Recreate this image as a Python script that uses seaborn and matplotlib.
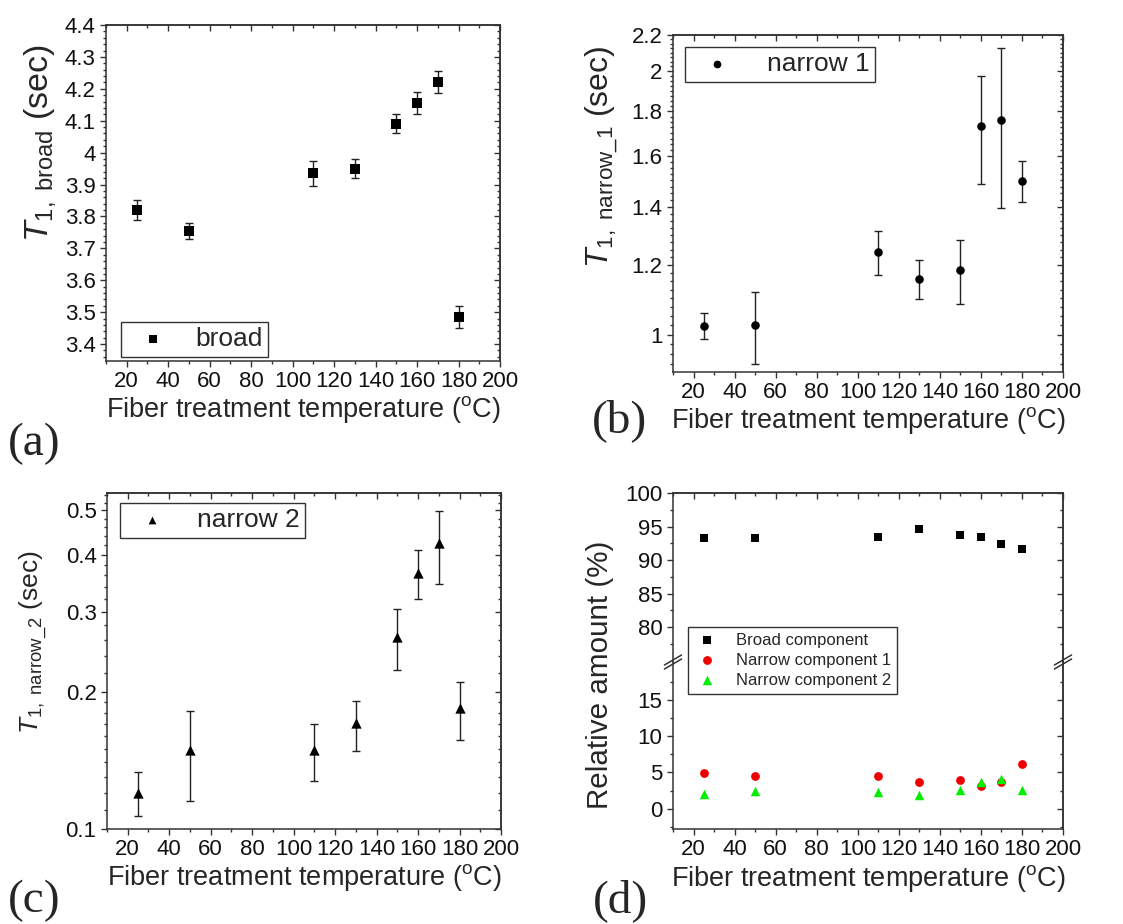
import numpy as np
import pandas as pd
import matplotlib
matplotlib.use("Agg")
import matplotlib.pyplot as plt
import seaborn as sns
from matplotlib.ticker import FixedLocator, MultipleLocator, NullFormatter, FixedFormatter

# ---------------- data ----------------
temps = [25, 50, 110, 130, 150, 160, 170, 180]

broad_t1 = [3.82, 3.755, 3.935, 3.95, 4.09, 4.155, 4.222, 3.485]
broad_err = [0.03, 0.025, 0.04, 0.03, 0.03, 0.035, 0.035, 0.035]

narrow1_t1 = [1.022, 1.025, 1.241, 1.158, 1.184, 1.731, 1.757, 1.497]
narrow1_lo = [0.987, 0.926, 1.169, 1.098, 1.084, 1.486, 1.394, 1.419]
narrow1_hi = [1.059, 1.119, 1.313, 1.218, 1.284, 1.974, 2.125, 1.578]

narrow2_t1 = [0.120, 0.149, 0.149, 0.1705, 0.264, 0.364, 0.425, 0.184]
narrow2_lo = [0.107, 0.1154, 0.1276, 0.148, 0.223, 0.319, 0.345, 0.157]
narrow2_hi = [0.1331, 0.1817, 0.170, 0.191, 0.304, 0.410, 0.499, 0.210]

broad_pct = [93.25, 93.25, 93.4, 94.6, 93.7, 93.4, 92.35, 91.6]
narrow1_pct = [4.9, 4.55, 4.55, 3.7, 4.0, 3.15, 3.65, 6.1]
narrow2_pct = [2.0, 2.45, 2.25, 1.9, 2.6, 3.7, 4.1, 2.6]

x_ticks = [20, 40, 60, 80, 100, 120, 140, 160, 180, 200]
a_ticks = [3.4, 3.5, 3.6, 3.7, 3.8, 3.9, 4.0, 4.1, 4.2, 4.3, 4.4]
a_ticklabels = ["3.4", "3.5", "3.6", "3.7", "3.8", "3.9", "4", "4.1", "4.2", "4.3", "4.4"]
b_ticks = [1.0, 1.2, 1.4, 1.6, 1.8, 2.0, 2.2]
b_ticklabels = ["1", "1.2", "1.4", "1.6", "1.8", "2", "2.2"]
c_ticks = [0.1, 0.2, 0.3, 0.4, 0.5]
c_ticklabels = ["0.1", "0.2", "0.3", "0.4", "0.5"]
d_up_ticks = [80, 85, 90, 95, 100]
d_lo_ticks = [0, 5, 10, 15]

# ---------------- style ----------------
sns.set_theme(style="ticks")
plt.rcParams["font.family"] = ["Liberation Sans", "DejaVu Sans"]
plt.rcParams["mathtext.fontset"] = "custom"
plt.rcParams["mathtext.rm"] = "Liberation Sans"
plt.rcParams["mathtext.it"] = "Liberation Sans:italic"
plt.rcParams["mathtext.bf"] = "Liberation Sans:bold"

W, H = 1123, 924
fig = plt.figure(figsize=(W / 100, H / 100), dpi=100)
fig.patch.set_facecolor("white")

SPINE = "#333333"
TICK_FS = 16
LABEL_FS = 19.5


def rect(l, t, r, b):
    return [l / W, 1 - b / H, (r - l) / W, (b - t) / H]


def fpt(x, y):
    return (x / W, 1 - y / H)


def style(ax, yminor=None, ymajor=None, show_top=True, show_bottom=True):
    for s in ax.spines.values():
        s.set_linewidth(1.1)
        s.set_color(SPINE)
    ax.tick_params(which="both", direction="out", top=False, right=False,
                   color=SPINE, width=1.0, labelsize=TICK_FS, pad=3, labelcolor="#111111")
    ax.tick_params(which="major", length=4.5)
    ax.tick_params(which="minor", length=2.5)
    ax.set_xlim(10, 200)
    ax.xaxis.set_major_locator(FixedLocator(x_ticks))
    ax.xaxis.set_minor_locator(MultipleLocator(10))
    if not show_bottom:
        ax.spines["bottom"].set_visible(False)
        ax.tick_params(axis="x", which="both", bottom=False, labelbottom=False)
    if not show_top:
        ax.spines["top"].set_visible(False)
    else:
        sx = ax.secondary_xaxis("top")
        sx.xaxis.set_major_locator(FixedLocator(x_ticks))
        sx.xaxis.set_minor_locator(MultipleLocator(10))
        sx.tick_params(which="both", direction="in", labeltop=False, color=SPINE, width=1.0)
        sx.tick_params(which="major", length=4.5)
        sx.tick_params(which="minor", length=2.5)
        for s in sx.spines.values():
            s.set_linewidth(1.1)
            s.set_color(SPINE)
    sy = ax.secondary_yaxis("right")
    sy.yaxis.set_major_locator(FixedLocator(ymajor))
    sy.yaxis.set_minor_locator(FixedLocator(yminor))
    sy.yaxis.set_major_formatter(NullFormatter())
    sy.yaxis.set_minor_formatter(NullFormatter())
    sy.tick_params(which="both", direction="in", labelright=False, color=SPINE, width=1.0)
    sy.tick_params(which="major", length=4.5)
    sy.tick_params(which="minor", length=2.5)
    for s in sy.spines.values():
        s.set_linewidth(1.1)
        s.set_color(SPINE)
    return sy


xlabel = r"Fiber treatment temperature ($^{\mathrm{o}}$C)"


def legend_style(**kw):
    base = dict(frameon=True, fancybox=False, framealpha=1, edgecolor=SPINE,
                borderaxespad=0, loc="upper left")
    base.update(kw)
    return base


# ---------------- (a) ----------------
ax_a = fig.add_axes(rect(106, 25, 500, 361))
ax_a.errorbar(temps, broad_t1, yerr=broad_err, fmt="none", ecolor="#222222",
              elinewidth=1.0, capsize=3, capthick=1.0, zorder=2)
sns.scatterplot(x=temps, y=broad_t1, ax=ax_a, marker="s", s=52, color="black",
                edgecolor="black", linewidth=0, zorder=3, label="broad")
ax_a.set_ylim(3.347, 4.4)
ax_a.yaxis.set_major_locator(FixedLocator(a_ticks))
ax_a.yaxis.set_major_formatter(FixedFormatter(a_ticklabels))
a_minor = [v for v in np.arange(3.36, 4.401, 0.02)]
ax_a.yaxis.set_minor_locator(FixedLocator(a_minor))
style(ax_a, ymajor=a_ticks, yminor=a_minor)
ax_a.set_xlabel(xlabel, fontsize=LABEL_FS, labelpad=1)
ax_a.set_ylabel(r"$T_{\mathrm{1,\ broad}}$ (sec)", fontsize=24.5, va="center")
ax_a.yaxis.set_label_coords(-0.1675, 0.649)
ax_a.legend(**legend_style(bbox_to_anchor=fpt(121, 322), bbox_transform=fig.transFigure,
                           fontsize=19, markerscale=0.7, handlelength=2.0,
                           handletextpad=0.6, borderpad=0.2))

# ---------------- (b) ----------------
ax_b = fig.add_axes(rect(673, 35, 1063, 372))
b_err = [np.array(narrow1_t1) - np.array(narrow1_lo), np.array(narrow1_hi) - np.array(narrow1_t1)]
ax_b.errorbar(temps, narrow1_t1, yerr=b_err, fmt="none", ecolor="#222222",
              elinewidth=1.0, capsize=2.6, capthick=1.0, zorder=2)
sns.scatterplot(x=temps, y=narrow1_t1, ax=ax_b, marker="o", s=38, color="black",
                edgecolor="black", linewidth=0, zorder=3, label="narrow 1")
ax_b.set_yscale("log")
ax_b.set_ylim(0.906, 2.2)
ax_b.yaxis.set_major_locator(FixedLocator(b_ticks))
ax_b.yaxis.set_major_formatter(FixedFormatter(b_ticklabels))
b_minor = [v for v in np.arange(0.925, 2.2, 0.025)]
ax_b.yaxis.set_minor_locator(FixedLocator(b_minor))
ax_b.yaxis.set_minor_formatter(NullFormatter())
style(ax_b, ymajor=b_ticks, yminor=b_minor)
ax_b.set_xlabel(xlabel, fontsize=LABEL_FS, labelpad=1)
ax_b.set_ylabel(r"$T_{\mathrm{1,\ narrow\_1}}$ (sec)", fontsize=23, va="center")
ax_b.yaxis.set_label_coords(-0.182, 0.638)
ax_b.legend(**legend_style(bbox_to_anchor=fpt(685, 47), bbox_transform=fig.transFigure,
                           fontsize=19, markerscale=0.9, handlelength=2.0,
                           handletextpad=0.9, borderpad=0.2))

# ---------------- (c) ----------------
ax_c = fig.add_axes(rect(107, 493, 501, 829))
c_err = [np.array(narrow2_t1) - np.array(narrow2_lo), np.array(narrow2_hi) - np.array(narrow2_t1)]
ax_c.errorbar(temps, narrow2_t1, yerr=c_err, fmt="none", ecolor="#222222",
              elinewidth=1.0, capsize=2.6, capthick=1.0, zorder=2)
sns.scatterplot(x=temps, y=narrow2_t1, ax=ax_c, marker="^", s=55, color="black",
                edgecolor="black", linewidth=0, zorder=3, label="narrow 2")
ax_c.set_yscale("log")
ax_c.set_ylim(0.1, 0.546)
ax_c.yaxis.set_major_locator(FixedLocator(c_ticks))
ax_c.yaxis.set_major_formatter(FixedFormatter(c_ticklabels))
c_minor = [v for v in np.arange(0.11, 0.2, 0.01)] + [v for v in np.arange(0.22, 0.55, 0.02)]
ax_c.yaxis.set_minor_locator(FixedLocator(c_minor))
ax_c.yaxis.set_minor_formatter(NullFormatter())
style(ax_c, ymajor=c_ticks, yminor=c_minor)
ax_c.set_xlabel(xlabel, fontsize=LABEL_FS, labelpad=1)
ax_c.set_ylabel(r"$T_{\mathrm{1,\ narrow\_2}}$ (sec)", fontsize=19, va="center")
ax_c.yaxis.set_label_coords(-0.185, 0.5565)
ax_c.legend(**legend_style(bbox_to_anchor=fpt(120, 503), bbox_transform=fig.transFigure,
                           fontsize=19, markerscale=0.75, handlelength=2.0,
                           handletextpad=0.7, borderpad=0.2))

# ---------------- (d) broken axis ----------------
ax_du = fig.add_axes(rect(673, 493, 1063, 662))
ax_dl = fig.add_axes(rect(673, 662, 1063, 829))

for axd in (ax_du, ax_dl):
    sns.scatterplot(x=temps, y=broad_pct, ax=axd, marker="s", s=40, color="black",
                    edgecolor="black", linewidth=0, zorder=3, label="Broad component")
    sns.scatterplot(x=temps, y=narrow1_pct, ax=axd, marker="o", s=40, color="#ee0000",
                    edgecolor="#ee0000", linewidth=0, zorder=3, label="Narrow component 1")
    sns.scatterplot(x=temps, y=narrow2_pct, ax=axd, marker="^", s=46, color="#00ee00",
                    edgecolor="#00ee00", linewidth=0, zorder=3, label="Narrow component 2")

ax_du.set_ylim(74.8, 100)
ax_du.yaxis.set_major_locator(FixedLocator(d_up_ticks))
du_minor = [77.5, 82.5, 87.5, 92.5, 97.5]
ax_du.yaxis.set_minor_locator(FixedLocator(du_minor))
style(ax_du, ymajor=d_up_ticks, yminor=du_minor, show_bottom=False)

ax_dl.set_ylim(-2.8, 20.2)
ax_dl.yaxis.set_major_locator(FixedLocator(d_lo_ticks))
dl_minor = [-2.5, 2.5, 7.5, 12.5, 17.5]
ax_dl.yaxis.set_minor_locator(FixedLocator(dl_minor))
style(ax_dl, ymajor=d_lo_ticks, yminor=dl_minor, show_top=False)
ax_dl.set_xlabel(xlabel, fontsize=LABEL_FS, labelpad=2)
ax_dl.set_ylabel("Relative amount (%)", fontsize=21.3, va="center")
ax_dl.yaxis.set_label_coords(-0.187, 0.922)

handles, labels = ax_dl.get_legend_handles_labels()
for axd in (ax_du, ax_dl):
    lg = axd.get_legend()
    if lg is not None:
        lg.remove()
fig.legend(handles, labels, **legend_style(bbox_to_anchor=fpt(688, 627), bbox_transform=fig.transFigure,
                                           fontsize=12, markerscale=1.0, handlelength=1.6,
                                           handletextpad=0.9, borderpad=0.35, labelspacing=0.3))

# break marks on the left and right spines
for xb in (0.0, 1.0):
    for dy in (-0.012, 0.012):
        ax_dl.plot([xb - 0.022, xb + 0.022], [1 + dy - 0.03, 1 + dy + 0.03],
                   transform=ax_dl.transAxes, color=SPINE, lw=1.1, clip_on=False, zorder=10)

# ---------------- panel letters ----------------
serif = ["Liberation Serif", "DejaVu Serif"]
fig.text(*fpt(8, 455), "(a)", family=serif, fontsize=34, ha="left", va="baseline")
fig.text(*fpt(592, 432), "(b)", family=serif, fontsize=34, ha="left", va="baseline")
fig.text(*fpt(8, 912), "(c)", family=serif, fontsize=34, ha="left", va="baseline")
fig.text(*fpt(593, 912), "(d)", family=serif, fontsize=34, ha="left", va="baseline")

fig.savefig("out.png", dpi=100, facecolor="white")
